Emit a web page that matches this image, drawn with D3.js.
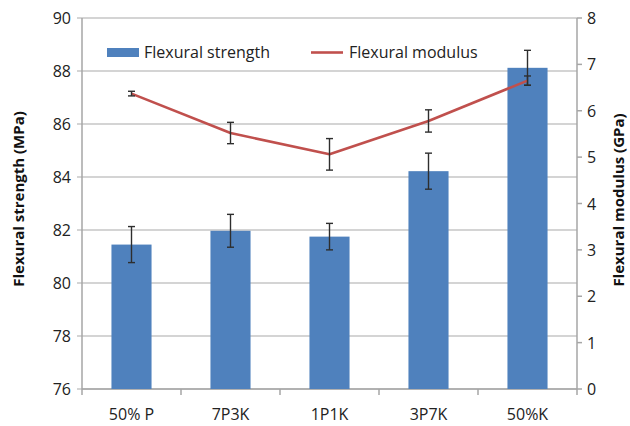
<!DOCTYPE html>
<html>
<head>
<meta charset="utf-8">
<script src="https://cdn.jsdelivr.net/npm/d3@7"></script>
<style>
  html, body { margin: 0; padding: 0; background: #fff; }
  svg { display: block; font-family: "Open Sans", "Noto Sans", sans-serif; }
</style>
</head>
<body>
<svg id="chart" width="630" height="426"></svg>
<script>
// ---- data ----
const categories = ["50% P", "7P3K", "1P1K", "3P7K", "50%K"];
const strength = [81.45, 81.97, 81.75, 84.22, 88.12];
const strengthErr = [0.68, 0.62, 0.5, 0.68, 0.66];
const modulus = [6.37, 5.52, 5.06, 5.78, 6.65];
const modulusErr = [0.05, 0.23, 0.34, 0.24, 0.1];
const leftTicks = [76, 78, 80, 82, 84, 86, 88, 90];
const rightTicks = [0, 1, 2, 3, 4, 5, 6, 7, 8];
const seriesNames = ["Flexural strength", "Flexural modulus"];
const axisTitles = ["Flexural strength (MPa)", "Flexural modulus (GPa)"];

// ---- layout ----
const plot = { left: 82, right: 577, top: 18, bottom: 389 };
const barColor = "#4f81bd";
const lineColor = "#c0504d";
const gridColor = "#c6c6c6";
const axisColor = "#a6a6a6";
const errColor = "#2e2e2e";

const svg = d3.select("#chart");

const x = d3.scaleBand().domain(categories).range([plot.left, plot.right])
  .paddingInner(0.595).paddingOuter(0.2975);
const yL = d3.scaleLinear().domain([76, 90]).range([plot.bottom, plot.top]);
const yR = d3.scaleLinear().domain([0, 8]).range([plot.bottom, plot.top]);

// gridlines
svg.append("g").selectAll("line").data(leftTicks).join("line")
  .attr("x1", plot.left - 5).attr("x2", plot.right)
  .attr("y1", d => yL(d)).attr("y2", d => yL(d))
  .attr("stroke", gridColor).attr("stroke-width", 1.5);

// axes lines
svg.append("line").attr("x1", plot.left).attr("x2", plot.left)
  .attr("y1", plot.top).attr("y2", plot.bottom)
  .attr("stroke", axisColor).attr("stroke-width", 1.5);
svg.append("line").attr("x1", plot.right).attr("x2", plot.right)
  .attr("y1", plot.top).attr("y2", plot.bottom)
  .attr("stroke", axisColor).attr("stroke-width", 1.5);
svg.append("line").attr("x1", plot.left).attr("x2", plot.right)
  .attr("y1", plot.bottom).attr("y2", plot.bottom)
  .attr("stroke", axisColor).attr("stroke-width", 1.5);

// right axis ticks
svg.append("g").selectAll("line").data(rightTicks).join("line")
  .attr("x1", plot.right).attr("x2", plot.right + 5)
  .attr("y1", d => yR(d)).attr("y2", d => yR(d))
  .attr("stroke", axisColor).attr("stroke-width", 1.5);

// category separator ticks
const step = x.step();
const sepX = d3.range(categories.length + 1).map(i => plot.left + i * step);
svg.append("g").selectAll("line").data(sepX).join("line")
  .attr("x1", d => d).attr("x2", d => d)
  .attr("y1", plot.bottom).attr("y2", plot.bottom + 6)
  .attr("stroke", axisColor).attr("stroke-width", 1.5);

// tick labels
svg.append("g").selectAll("text").data(leftTicks).join("text")
  .attr("x", 71).attr("y", d => yL(d)).attr("dy", "0.38em")
  .attr("text-anchor", "end").attr("font-size", 16).attr("fill", "#222")
  .text(d => d);
svg.append("g").selectAll("text").data(rightTicks).join("text")
  .attr("x", 587).attr("y", d => yR(d)).attr("dy", "0.38em")
  .attr("text-anchor", "start").attr("font-size", 16).attr("fill", "#222")
  .text(d => d);
svg.append("g").selectAll("text").data(categories).join("text")
  .attr("x", d => x(d) + x.bandwidth() / 2).attr("y", 420)
  .attr("text-anchor", "middle").attr("font-size", 16).attr("fill", "#222")
  .text(d => d);

// axis titles
svg.append("text").attr("transform", "translate(24,199) rotate(-90)")
  .attr("text-anchor", "middle").attr("font-size", 15).attr("font-weight", "bold")
  .attr("fill", "#111").text(axisTitles[0]);
svg.append("text").attr("transform", "translate(624,200) rotate(-90)")
  .attr("text-anchor", "middle").attr("font-size", 15).attr("font-weight", "bold")
  .attr("fill", "#111").text(axisTitles[1]);

// bars
svg.append("g").selectAll("rect").data(categories).join("rect")
  .attr("x", d => x(d)).attr("width", x.bandwidth())
  .attr("y", (d, i) => yL(strength[i]))
  .attr("height", (d, i) => yL(76) - yL(strength[i]))
  .attr("fill", barColor);

// error bars helper
function errorBars(vals, errs, scale, cls) {
  const g = svg.append("g").attr("class", cls);
  categories.forEach((c, i) => {
    const cx = x(c) + x.bandwidth() / 2;
    const y1 = scale(vals[i] + errs[i]);
    const y2 = scale(vals[i] - errs[i]);
    g.append("line").attr("x1", cx).attr("x2", cx).attr("y1", y1).attr("y2", y2)
      .attr("stroke", errColor).attr("stroke-width", 1.4);
    [y1, y2].forEach(yy => g.append("line")
      .attr("x1", cx - 3.5).attr("x2", cx + 3.5).attr("y1", yy).attr("y2", yy)
      .attr("stroke", errColor).attr("stroke-width", 1.4));
  });
}
errorBars(strength, strengthErr, yL, "err-strength");

// line
const line = d3.line()
  .x((d, i) => x(categories[i]) + x.bandwidth() / 2)
  .y(d => yR(d));
svg.append("path").datum(modulus).attr("d", line)
  .attr("fill", "none").attr("stroke", lineColor).attr("stroke-width", 2.6)
  .attr("stroke-linejoin", "round");
errorBars(modulus, modulusErr, yR, "err-modulus");

// legend
const lg = svg.append("g");
lg.append("rect").attr("x", 107).attr("y", 48).attr("width", 32).attr("height", 9)
  .attr("fill", barColor);
lg.append("text").attr("x", 144).attr("y", 58).attr("font-size", 16).attr("fill", "#222")
  .text(seriesNames[0]);
lg.append("line").attr("x1", 311).attr("x2", 343).attr("y1", 52.5).attr("y2", 52.5)
  .attr("stroke", lineColor).attr("stroke-width", 2.6);
lg.append("text").attr("x", 349).attr("y", 58).attr("font-size", 16).attr("fill", "#222")
  .text(seriesNames[1]);
</script>
</body>
</html>
